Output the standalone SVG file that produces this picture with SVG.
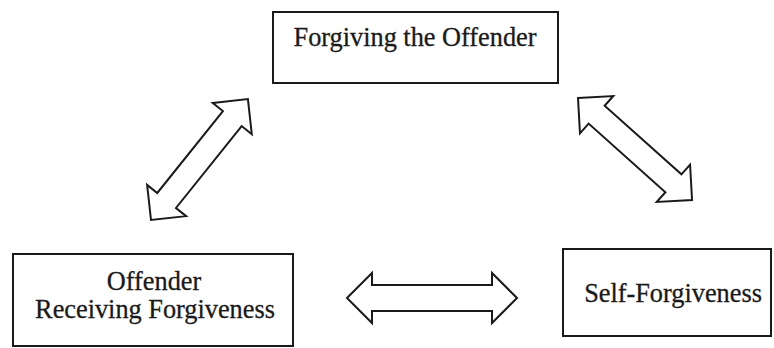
<svg xmlns="http://www.w3.org/2000/svg" width="774" height="348" viewBox="0 0 774 348">
<style>
.box{fill:#fff;stroke:#1a1a1a;stroke-width:2}
.lbl{font-family:"Liberation Serif","Times New Roman",serif;font-size:26.3px;fill:#1a1a1a;stroke:#1a1a1a;stroke-width:0.3;text-anchor:middle}
.arr{fill:#fff;stroke:#1a1a1a;stroke-width:2;stroke-linejoin:miter}
</style>
<rect width="774" height="348" fill="#fff"/>
<g id="connectors">
<polygon class="arr" transform="translate(151,220) rotate(-51.3)" points="0,0 25,-25 25,-12 130,-12 130,-25 155,0 130,25 130,12 25,12 25,25"/>
<polygon class="arr" transform="translate(578,98) rotate(41.8)" points="0,0 25,-25 25,-12 128,-12 128,-25 153,0 128,25 128,12 25,12 25,25"/>
<polygon class="arr" transform="translate(347,298)" points="0,0 25,-25 25,-13 145,-13 145,-25 170,0 145,25 145,13 25,13 25,25"/>
</g>
<g id="forgiving-the-offender">
<rect class="box" x="273" y="12" width="285" height="71"/>
<text class="lbl" x="415" y="46">Forgiving the Offender</text>
</g>
<g id="offender-receiving-forgiveness">
<rect class="box" x="13" y="254" width="280" height="92"/>
<text class="lbl" x="154" y="290">Offender</text>
<text class="lbl" x="155" y="318">Receiving Forgiveness</text>
</g>
<g id="self-forgiveness">
<rect class="box" x="563" y="249" width="208" height="87"/>
<text class="lbl" x="673" y="302">Self-Forgiveness</text>
</g>
</svg>
